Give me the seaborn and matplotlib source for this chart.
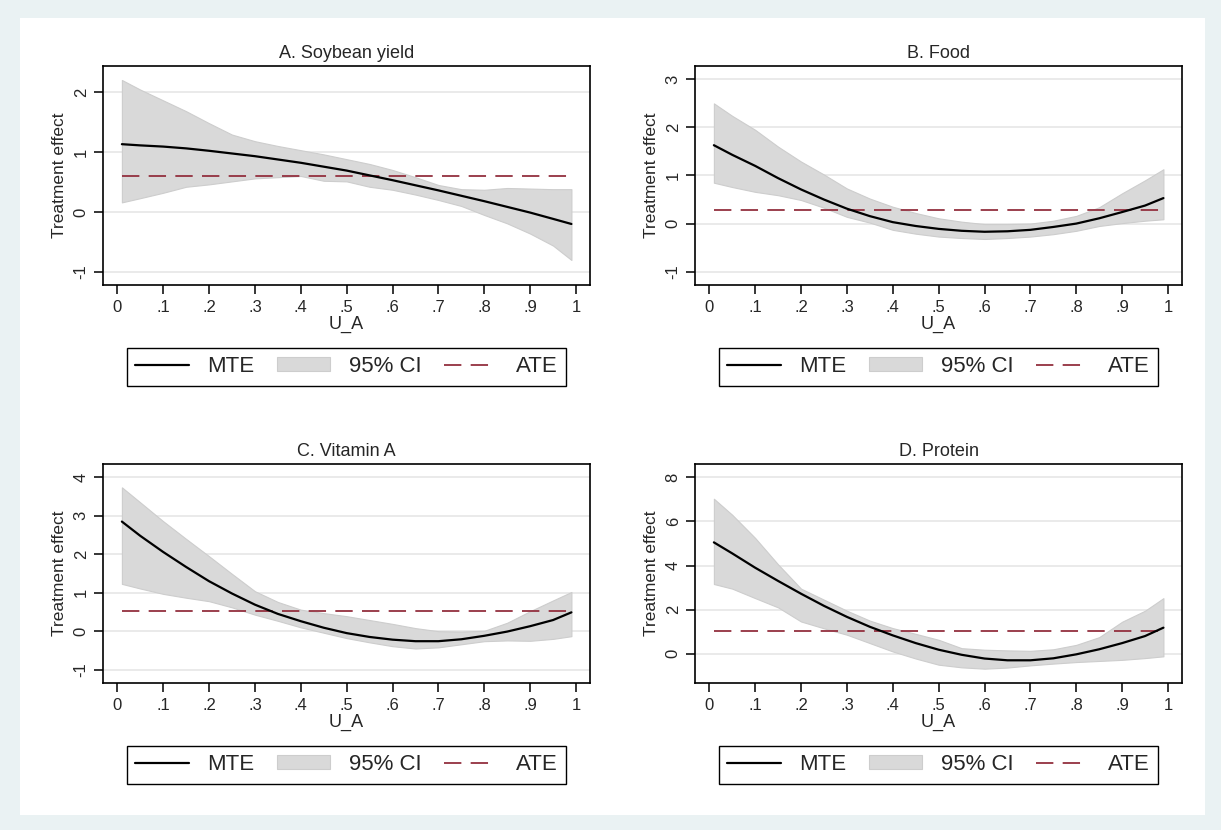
import matplotlib
matplotlib.use("Agg")
import matplotlib.pyplot as plt
import seaborn as sns
from matplotlib.lines import Line2D
from matplotlib.patches import Patch, Rectangle

# grid of U_A values the MTE curves were evaluated on
U_A = [0.01, 0.05, 0.10, 0.15, 0.20, 0.25, 0.30, 0.35, 0.40, 0.45, 0.50,
       0.55, 0.60, 0.65, 0.70, 0.75, 0.80, 0.85, 0.90, 0.95, 0.99]
ATE_X = [0.01, 0.99]

TITLES = ["A. Soybean yield", "B. Food", "C. Vitamin A", "D. Protein"]

# A. Soybean yield
soy_mte = [1.13, 1.11, 1.09, 1.06, 1.02, 0.975, 0.93, 0.875, 0.82, 0.755, 0.69,
           0.61, 0.53, 0.445, 0.36, 0.27, 0.18, 0.085, -0.01, -0.115, -0.20]
soy_lo = [0.16, 0.23, 0.32, 0.42, 0.46, 0.51, 0.56, 0.58, 0.60, 0.52, 0.51,
          0.42, 0.37, 0.29, 0.20, 0.10, -0.05, -0.19, -0.36, -0.56, -0.80]
soy_hi = [2.20, 2.04, 1.86, 1.68, 1.48, 1.29, 1.18, 1.10, 1.03, 0.96, 0.88,
          0.80, 0.70, 0.58, 0.45, 0.38, 0.37, 0.40, 0.39, 0.38, 0.38]
soy_ate = 0.60

# B. Food
food_mte = [1.63, 1.43, 1.20, 0.945, 0.71, 0.50, 0.31, 0.155, 0.03, -0.05, -0.11,
            -0.15, -0.17, -0.16, -0.13, -0.07, 0.0, 0.11, 0.24, 0.375, 0.53]
food_lo = [0.85, 0.76, 0.66, 0.59, 0.49, 0.33, 0.14, 0.02, -0.13, -0.21, -0.27,
           -0.30, -0.32, -0.30, -0.27, -0.22, -0.15, -0.05, 0.01, 0.06, 0.09]
food_hi = [2.50, 2.24, 1.95, 1.60, 1.29, 1.02, 0.73, 0.52, 0.35, 0.22, 0.11,
           0.04, -0.01, -0.01, 0.0, 0.06, 0.16, 0.34, 0.63, 0.90, 1.13]
food_ate = 0.29

# C. Vitamin A
vita_mte = [2.85, 2.48, 2.06, 1.67, 1.30, 0.98, 0.69, 0.45, 0.26, 0.09, -0.05,
            -0.15, -0.22, -0.26, -0.26, -0.21, -0.12, -0.01, 0.13, 0.29, 0.49]
vita_lo = [1.23, 1.11, 0.97, 0.87, 0.78, 0.62, 0.43, 0.27, 0.10, -0.04, -0.18,
           -0.29, -0.39, -0.45, -0.42, -0.34, -0.26, -0.24, -0.25, -0.20, -0.13]
vita_hi = [3.74, 3.35, 2.86, 2.40, 1.95, 1.49, 1.04, 0.76, 0.56, 0.47, 0.39,
           0.29, 0.19, 0.08, 0.0, -0.01, 0.01, 0.22, 0.52, 0.80, 1.02]
vita_ate = 0.53

# D. Protein
prot_mte = [5.05, 4.55, 3.90, 3.30, 2.72, 2.17, 1.67, 1.22, 0.83, 0.48, 0.18,
            -0.05, -0.22, -0.30, -0.30, -0.21, -0.03, 0.20, 0.48, 0.80, 1.18]
prot_lo = [3.16, 2.95, 2.52, 2.10, 1.46, 1.15, 0.86, 0.48, 0.10, -0.22, -0.50,
           -0.62, -0.68, -0.63, -0.53, -0.45, -0.38, -0.33, -0.28, -0.20, -0.12]
prot_hi = [7.03, 6.30, 5.25, 4.05, 2.95, 2.45, 1.95, 1.50, 1.16, 0.90, 0.63,
           0.25, 0.18, 0.15, 0.13, 0.20, 0.40, 0.75, 1.45, 1.95, 2.52]
prot_ate = 1.04

X_TICKS = [0, 0.1, 0.2, 0.3, 0.4, 0.5, 0.6, 0.7, 0.8, 0.9, 1]
X_TICKLABELS = ["0", ".1", ".2", ".3", ".4", ".5", ".6", ".7", ".8", ".9", "1"]
Y_TICKS = [[-1, 0, 1, 2], [-1, 0, 1, 2, 3], [-1, 0, 1, 2, 3, 4], [0, 2, 4, 6, 8]]

panels = [
    (soy_mte, soy_lo, soy_hi, soy_ate),
    (food_mte, food_lo, food_hi, food_ate),
    (vita_mte, vita_lo, vita_hi, vita_ate),
    (prot_mte, prot_lo, prot_hi, prot_ate),
]

sns.set_theme(style="white")
plt.rcParams["font.family"] = ["Liberation Sans", "DejaVu Sans"]
plt.rcParams["axes.unicode_minus"] = False
plt.rcParams["lines.scale_dashes"] = False

W, H = 1221, 830
BG = "#eaf2f3"
CI_FACE = "#d9d9d9"
CI_EDGE = "#cdcdcd"
ATE_COL = "#93303f"
DASH = (0, (12.5, 6.7))

fig = plt.figure(figsize=(W / 100, H / 100), dpi=100, facecolor=BG)
fig.patches.append(Rectangle((20 / W, 1 - 815 / H), 1185 / W, 797 / H,
                             transform=fig.transFigure, facecolor="white",
                             edgecolor="none", zorder=-10))

# axes boxes in pixels: left, top (width 487, height 219)
boxes = [(103.3, 66), (695.3, 66), (103.3, 464), (695.3, 464)]
ylims = [(-1.217, 2.433), (-1.277, 3.277), (-1.347, 4.347), (-1.33, 8.605)]

for i, (mte, lo, hi, ate) in enumerate(panels):
    left, top = boxes[i]
    ax = fig.add_axes([left / W, 1 - (top + 219) / H, 486.7 / W, 219 / H])
    ax.set_facecolor("white")

    for y in Y_TICKS[i]:
        ax.axhline(y, color="#e6e6e6", lw=1.2, zorder=0)

    ax.fill_between(U_A, lo, hi, facecolor=CI_FACE, edgecolor=CI_EDGE,
                    lw=0.8, zorder=1)
    sns.lineplot(x=U_A, y=mte, ax=ax, color="black", lw=1.6, zorder=3)
    sns.lineplot(x=ATE_X, y=[ate, ate], ax=ax, color=ATE_COL, lw=1.3,
                 linestyle=DASH, zorder=2)

    ax.set_xlim(-0.0305, 1.0305)
    ax.set_ylim(*ylims[i])
    ax.set_xticks(X_TICKS)
    ax.set_xticklabels(X_TICKLABELS)
    ax.set_yticks(Y_TICKS[i])
    ax.set_yticklabels([str(v) for v in Y_TICKS[i]], rotation=90, va="center")
    ax.tick_params(direction="out", length=6.5, width=1.1, color="black",
                   labelsize=12, pad=4, bottom=True, left=True)
    for s in ax.spines.values():
        s.set_color("black")
        s.set_linewidth(1.2)

    ax.set_title(TITLES[i], fontsize=13, pad=6)
    ax.set_xlabel("U_A", fontsize=13, labelpad=1)
    ax.set_ylabel("Treatment effect", fontsize=12.5, labelpad=5)

    handles = [
        Line2D([], [], color="black", lw=1.6),
        Patch(facecolor=CI_FACE, edgecolor=CI_EDGE, lw=0.8),
        Line2D([], [], color=ATE_COL, lw=1.3, linestyle=DASH),
    ]
    leg = ax.legend(handles, ["MTE", "95% CI", "ATE"], loc="upper center",
                    bbox_to_anchor=(0.5, -0.286), borderaxespad=0, ncol=3,
                    fontsize=16, frameon=True, fancybox=False, framealpha=1,
                    edgecolor="black", handlelength=2.4, handleheight=0.6,
                    handletextpad=0.85, columnspacing=1.0, borderpad=0.38)
    leg.get_frame().set_linewidth(1.0)

fig.savefig("out.png", dpi=100, facecolor=BG)
